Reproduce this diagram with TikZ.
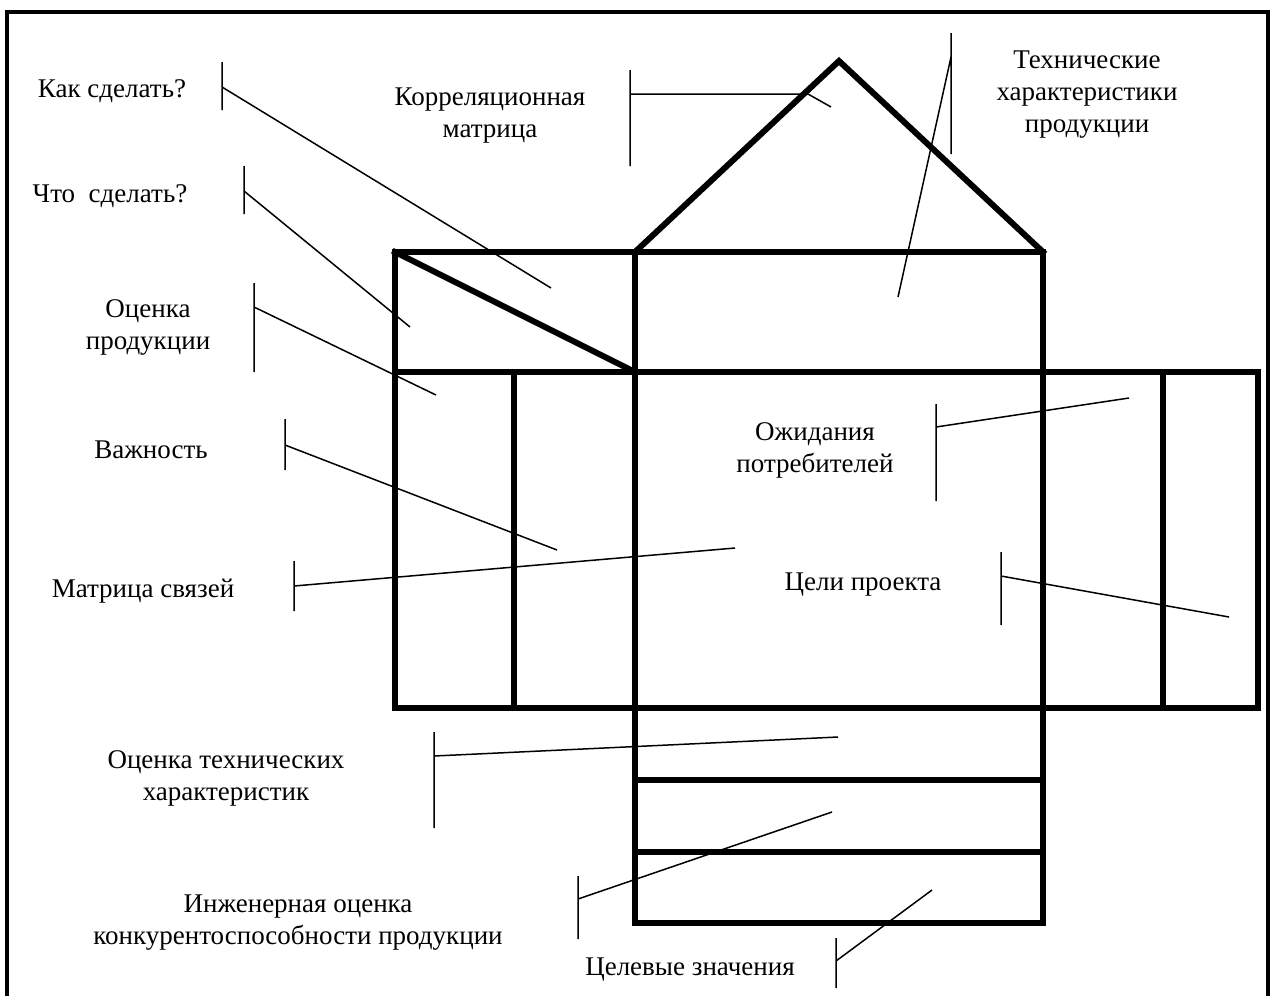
\documentclass[tikz,border=0pt]{standalone}
\usepackage{fontspec}
\setmainfont{Liberation Serif}
\usetikzlibrary{positioning}

\begin{document}
\begin{tikzpicture}[x=0.5pt, y=-0.5pt,
    house/.style={line width=3pt, line join=miter, line cap=rect},
    lead/.style={line width=0.75pt},
    lbl/.style={align=center, inner sep=0pt, yshift=-1.5pt, font=\fontsize{13.5}{16}\selectfont}]
  \useasboundingbox (0,0) rectangle (1273,996);
  \draw[line width=2pt] (7,996) -- (7,12) -- (1268,12) -- (1268,996);

  \coordinate (u_1) at (395,252);
  \coordinate (u_2) at (635,252);
  \coordinate (u_3) at (1043,252);
  \coordinate (r_t) at (839,61);
  \coordinate (m_1) at (395,372);
  \coordinate (m_2) at (514,372);
  \coordinate (m_3) at (635,372);
  \coordinate (m_4) at (1043,372);
  \coordinate (m_5) at (1163,372);
  \coordinate (m_6) at (1258,372);
  \coordinate (b_1) at (395,708);
  \coordinate (b_2) at (514,708);
  \coordinate (b_5) at (1163,708);
  \coordinate (b_6) at (1258,708);
  \coordinate (c_1) at (635,780);
  \coordinate (c_2) at (1043,780);
  \coordinate (d_1) at (635,852);
  \coordinate (d_2) at (1043,852);
  \coordinate (e_1) at (635,923);
  \coordinate (e_2) at (1043,923);

  \draw[house] (u_2) -- (r_t) -- (u_3);
  \draw[house] (u_1) rectangle (m_4);
  \draw[house] (u_1) -- (m_3);
  \draw[house] (m_1) rectangle (b_6);
  \draw[house] (u_2) -- (e_1) -- (e_2) -- (u_3);
  \draw[house] (m_2) -- (b_2) (m_5) -- (b_5);
  \draw[house] (c_1) -- (c_2) (d_1) -- (d_2);

  \node[lbl] (kak)      at (112,88)   {Как сделать?};
  \node[lbl] (chto)     at (110,193)  {Что\ \ сделать?};
  \node[lbl] (ocenka)   at (148,324)  {Оценка\\продукции};
  \node[lbl] (vazh)     at (151,447)  {Важность};
  \node[lbl] (matr)     at (143,588)  {Матрица связей};
  \node[lbl] (ocentech) at (226,775)  {Оценка технических\\характеристик};
  \node[lbl] (inzh)     at (298,920)  {Инженерная оценка\\конкурентоспособности продукции};
  \node[lbl] (celev)    at (690,967)  {Целевые значения};
  \node[lbl] (ozhid)    at (815,447)  {Ожидания\\потребителей};
  \node[lbl] (celi)     at (863,582)  {Цели проекта};
  \node[lbl] (techch)   at (1087,92)  {Технические\\характеристики\\продукции};
  \node[lbl] (korr)     at (490,113)  {Корреляционная\\матрица};

  \coordinate (kak_t) at (222,62);   \coordinate (kak_b) at (222,110);
  \coordinate (kak_s) at (222,87);   \coordinate (kak_e) at (551,288);
  \coordinate (chto_t) at (244,166); \coordinate (chto_b) at (244,214);
  \coordinate (chto_s) at (244,191); \coordinate (chto_e) at (410,327);
  \coordinate (ocenka_t) at (254,283); \coordinate (ocenka_b) at (254,372);
  \coordinate (ocenka_s) at (254,307); \coordinate (ocenka_e) at (436,395);
  \coordinate (vazh_t) at (285,419); \coordinate (vazh_b) at (285,470);
  \coordinate (vazh_s) at (285,445); \coordinate (vazh_e) at (557,550);
  \coordinate (matr_t) at (294,561); \coordinate (matr_b) at (294,611);
  \coordinate (matr_s) at (294,586); \coordinate (matr_e) at (735,548);
  \coordinate (ocentech_t) at (434,732); \coordinate (ocentech_b) at (434,828);
  \coordinate (ocentech_s) at (434,756); \coordinate (ocentech_e) at (838,737);
  \coordinate (inzh_t) at (578,876); \coordinate (inzh_b) at (578,939);
  \coordinate (inzh_s) at (578,899); \coordinate (inzh_e) at (832,812);
  \coordinate (celev_t) at (836,938); \coordinate (celev_b) at (836,988);
  \coordinate (celev_s) at (836,961); \coordinate (celev_e) at (932,890);
  \coordinate (ozhid_t) at (936,404); \coordinate (ozhid_b) at (936,501);
  \coordinate (ozhid_s) at (936,427); \coordinate (ozhid_e) at (1129,398);
  \coordinate (celi_t) at (1001,552); \coordinate (celi_b) at (1001,625);
  \coordinate (celi_s) at (1001,576); \coordinate (celi_e) at (1229,617);
  \coordinate (techch_t) at (951,33); \coordinate (techch_b) at (951,154);
  \coordinate (techch_s) at (951,57); \coordinate (techch_e) at (898,297);
  \coordinate (korr_t) at (630,70);  \coordinate (korr_b) at (630,166);
  \coordinate (korr_s) at (630,94);  \coordinate (korr_k) at (808,94);
  \coordinate (korr_e) at (831,107);

  \draw[lead] (kak_t) -- (kak_b) (kak_s) -- (kak_e);
  \draw[lead] (chto_t) -- (chto_b) (chto_s) -- (chto_e);
  \draw[lead] (ocenka_t) -- (ocenka_b) (ocenka_s) -- (ocenka_e);
  \draw[lead] (vazh_t) -- (vazh_b) (vazh_s) -- (vazh_e);
  \draw[lead] (matr_t) -- (matr_b) (matr_s) -- (matr_e);
  \draw[lead] (ocentech_t) -- (ocentech_b) (ocentech_s) -- (ocentech_e);
  \draw[lead] (inzh_t) -- (inzh_b) (inzh_s) -- (inzh_e);
  \draw[lead] (celev_t) -- (celev_b) (celev_s) -- (celev_e);
  \draw[lead] (ozhid_t) -- (ozhid_b) (ozhid_s) -- (ozhid_e);
  \draw[lead] (celi_t) -- (celi_b) (celi_s) -- (celi_e);
  \draw[lead] (techch_t) -- (techch_b) (techch_s) -- (techch_e);
  \draw[lead] (korr_t) -- (korr_b) (korr_s) -- (korr_k) -- (korr_e);
\end{tikzpicture}
\end{document}
